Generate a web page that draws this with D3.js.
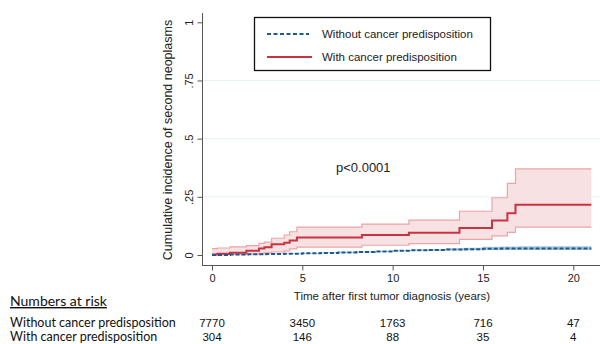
<!DOCTYPE html>
<html>
<head>
<meta charset="utf-8">
<script src="https://cdn.jsdelivr.net/npm/d3@7"></script>
<style>
  body { margin: 0; background: #fff; }
  svg { display: block; }
</style>
</head>
<body>
<svg id="chart" width="600" height="344"></svg>
<script>
// cumulative incidence, with cancer predisposition: [time, estimate]
const withTimes = [0, 0.3, 1.0, 1.9, 2.6, 2.9, 3.3, 4.0, 4.3, 4.7, 8.3, 10.9, 13.7, 15.5, 16.35, 16.8, 21];
const withEst = [0.002, 0.005, 0.01, 0.018, 0.028, 0.033, 0.046, 0.053, 0.062, 0.075, 0.086, 0.096, 0.116, 0.148, 0.179, 0.216, 0.216];
const withLo = [0, 0, 0.002, 0.004, 0.007, 0.009, 0.013, 0.018, 0.026, 0.034, 0.042, 0.049, 0.067, 0.082, 0.097, 0.12, 0.12];
const withHi = [0.027, 0.03, 0.035, 0.04, 0.05, 0.055, 0.072, 0.086, 0.1, 0.12, 0.133, 0.15, 0.188, 0.246, 0.308, 0.37, 0.37];

// without cancer predisposition
const withoutTimes = [0, 1, 2, 3, 4, 5, 6, 7, 8, 9, 10, 11, 12, 13, 14, 15, 16, 17, 18, 19, 21];
const withoutEst = [0, 0.002, 0.003, 0.004, 0.005, 0.007, 0.009, 0.011, 0.013, 0.015, 0.018, 0.02, 0.022, 0.024, 0.025, 0.027, 0.028, 0.028, 0.028, 0.028, 0.028];
const withoutLo = [0, 0.001, 0.002, 0.003, 0.004, 0.005, 0.007, 0.009, 0.011, 0.013, 0.015, 0.017, 0.018, 0.019, 0.02, 0.021, 0.021, 0.021, 0.021, 0.021, 0.021];
const withoutHi = [0, 0.003, 0.004, 0.006, 0.007, 0.009, 0.012, 0.014, 0.016, 0.018, 0.021, 0.024, 0.026, 0.029, 0.031, 0.035, 0.037, 0.038, 0.038, 0.038, 0.038];

const xTicks = [0, 5, 10, 15, 20];
const yTicks = [0, 0.25, 0.5, 0.75, 1];
const yTickLabels = ['0', '.25', '.5', '.75', '1'];
const riskGroups = ['Without cancer predisposition', 'With cancer predisposition'];
const riskWithout = [7770, 3450, 1763, 716, 47];
const riskWith = [304, 146, 88, 35, 4];

const svg = d3.select('#chart');
const font = 'Liberation Sans, Arial, sans-serif';

const x = d3.scaleLinear().domain([0, 20]).range([212, 573.3]);
const y = d3.scaleLinear().domain([0, 1]).range([255, 22.3]);

// gridlines
svg.append('g')
  .selectAll('line')
  .data(yTicks.filter(d => d > 0 && d < 1))
  .enter()
  .append('line')
  .attr('x1', 203).attr('x2', 600)
  .attr('y1', d => y(d)).attr('y2', d => y(d))
  .attr('stroke', '#e6f1f6').attr('stroke-width', 1);

const rows = (times, a) => times.map((t, i) => ({ t: t, v: a[i] }));

const area = (times, lo, hi) => d3.area()
  .curve(d3.curveStepAfter)
  .x(d => x(d.t))
  .y0((d, i) => y(lo[i]))
  .y1((d, i) => y(hi[i]));

const line = d3.line()
  .curve(d3.curveStepAfter)
  .x(d => x(d.t))
  .y(d => y(d.v));

// without: band
svg.append('path')
  .datum(rows(withoutTimes, withoutEst))
  .attr('d', area(withoutTimes, withoutLo, withoutHi))
  .attr('fill', '#a9c9dc');

// with: band + edges + line
svg.append('path')
  .datum(rows(withTimes, withEst))
  .attr('d', area(withTimes, withLo, withHi))
  .attr('fill', '#f8e1e2');
[withLo, withHi].forEach(b => {
  svg.append('path')
    .datum(rows(withTimes, b))
    .attr('d', line)
    .attr('fill', 'none')
    .attr('stroke', '#eba4a8')
    .attr('stroke-width', 1.2);
});
svg.append('path')
  .datum(rows(withTimes, withEst))
  .attr('d', line)
  .attr('fill', 'none')
  .attr('stroke', '#c73440')
  .attr('stroke-width', 2);

svg.append('path')
  .datum(rows(withoutTimes, withoutEst))
  .attr('d', line)
  .attr('fill', 'none')
  .attr('stroke', '#1f5a8c')
  .attr('stroke-width', 2)
  .attr('stroke-dasharray', '4,2');

// axes
const yAxis = svg.append('g')
  .attr('transform', 'translate(202.5,0)')
  .call(d3.axisLeft(y).tickValues(yTicks).tickFormat((d, i) => yTickLabels[i]).tickSize(5));
yAxis.select('.domain').attr('d', 'M0,13V265.5').attr('stroke', '#555');
yAxis.selectAll('.tick line').attr('stroke', '#555');
yAxis.selectAll('.tick text')
  .attr('font-family', font).attr('font-size', 11).attr('fill', '#222')
  .attr('transform', 'rotate(-90)')
  .attr('x', 0).attr('y', -10)
  .attr('dy', 0)
  .attr('text-anchor', 'middle');

const xAxis = svg.append('g')
  .attr('transform', 'translate(0,265.5)')
  .call(d3.axisBottom(x).tickValues(xTicks).tickSize(5));
xAxis.select('.domain').attr('d', 'M202,0H600').attr('stroke', '#555');
xAxis.selectAll('.tick line').attr('stroke', '#555');
xAxis.selectAll('.tick text')
  .attr('font-family', font).attr('font-size', 11).attr('fill', '#222')
  .attr('y', 9);

svg.append('text')
  .attr('transform', 'translate(172,140) rotate(-90)')
  .attr('text-anchor', 'middle')
  .attr('font-family', font).attr('font-size', 12.5).attr('fill', '#222')
  .text('Cumulative incidence of second neoplasms');

svg.append('text')
  .attr('x', 392).attr('y', 300)
  .attr('text-anchor', 'middle')
  .attr('font-family', font).attr('font-size', 11.5).attr('fill', '#222')
  .text('Time after first tumor diagnosis (years)');

svg.append('text')
  .attr('x', 336).attr('y', 172)
  .attr('font-family', font).attr('font-size', 13).attr('fill', '#222')
  .text('p<0.0001');

// legend
const lg = svg.append('g');
lg.append('rect')
  .attr('x', 254.5).attr('y', 17.5).attr('width', 236).attr('height', 53)
  .attr('fill', '#fff').attr('stroke', '#111').attr('stroke-width', 1.3);
lg.append('line')
  .attr('x1', 267).attr('x2', 309).attr('y1', 34).attr('y2', 34)
  .attr('stroke', '#1f5a8c').attr('stroke-width', 2).attr('stroke-dasharray', '4,2.5');
lg.append('line')
  .attr('x1', 267).attr('x2', 312).attr('y1', 57).attr('y2', 57)
  .attr('stroke', '#c73440').attr('stroke-width', 2);
lg.selectAll('text')
  .data(['Without cancer predisposition', 'With cancer predisposition'])
  .enter()
  .append('text')
  .attr('x', 322).attr('y', (d, i) => 38 + i * 23)
  .attr('font-family', font).attr('font-size', 11.5).attr('fill', '#222')
  .text(d => d);

// numbers at risk
const tf = 'Lato, Open Sans, sans-serif';
svg.append('text')
  .attr('x', 10).attr('y', 306)
  .attr('font-family', tf).attr('font-size', 14).attr('fill', '#111')
  .attr('text-decoration', 'underline')
  .text('Numbers at risk');

[riskWithout, riskWith].forEach((vals, r) => {
  svg.append('text')
    .attr('x', 10).attr('y', 327 + r * 13.5)
    .attr('font-family', tf).attr('font-size', 12.5).attr('fill', '#111')
    .text(riskGroups[r]);
  svg.append('g')
    .selectAll('text')
    .data(vals)
    .enter()
    .append('text')
    .attr('x', (d, i) => x(xTicks[i]))
    .attr('y', 327 + r * 13.5)
    .attr('text-anchor', 'middle')
    .attr('font-family', font).attr('font-size', 11.5).attr('fill', '#111')
    .text(d => d);
});
</script>
</body>
</html>
